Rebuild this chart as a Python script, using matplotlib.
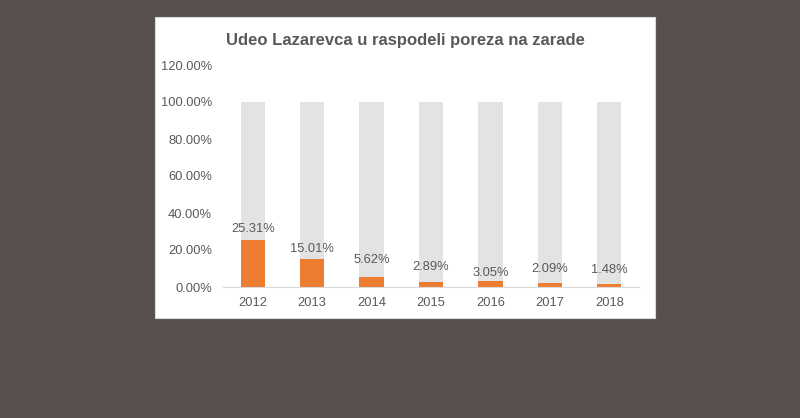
import matplotlib.pyplot as plt
from matplotlib.patches import Rectangle

years = ['2012', '2013', '2014', '2015', '2016', '2017', '2018']
share = [25.31, 15.01, 5.62, 2.89, 3.05, 2.09, 1.48]
total = [100, 100, 100, 100, 100, 100, 100]
# label heights as drawn in the original (Excel placed them unevenly)
label_y = [31.2, 20.5, 14.5, 10.9, 7.6, 9.8, 9.3]

plt.rcParams['font.family'] = ['Liberation Sans', 'DejaVu Sans']
text_col = '#595959'

fig = plt.figure(figsize=(8, 4.18), dpi=100)
fig.patch.set_facecolor('#57504d')
fig.patches.append(Rectangle((155 / 800, 1 - 318 / 418), 500 / 800, 301 / 418,
                             transform=fig.transFigure, facecolor='white',
                             edgecolor='#d9d9d9', linewidth=0.8, zorder=-5))

ax = fig.add_axes([223 / 800, 131 / 418, 416 / 800, 222 / 418])
ax.set_facecolor('none')
x = range(len(years))
ax.bar(x, total, width=0.41, color='#e3e3e3', zorder=1)
ax.bar(x, share, width=0.41, color='#ed7d31', zorder=2)
for i, v in enumerate(share):
    ax.text(i, label_y[i], f'{v:.2f}%', ha='center', va='center',
            fontsize=9.3, color=text_col, zorder=3)

ax.set_xlim(-0.5, len(years) - 0.5)
ax.set_ylim(0, 120)
ax.set_yticks(range(0, 121, 20))
ax.set_yticklabels([f'{t:.2f}%' for t in range(0, 121, 20)])
ax.set_xticks(list(x))
ax.set_xticklabels(years)
ax.tick_params(axis='both', length=0, labelsize=9.3, colors=text_col)
ax.tick_params(axis='y', pad=8)
ax.tick_params(axis='x', pad=7)
for s in ['top', 'right', 'left']:
    ax.spines[s].set_visible(False)
ax.spines['bottom'].set_color('#d9d9d9')

fig.text(405 / 800, 1 - 40 / 418, 'Udeo Lazarevca u raspodeli poreza na zarade',
         ha='center', va='center', fontsize=12, fontweight='bold', color=text_col)

fig.savefig('out.png', dpi=100, facecolor=fig.get_facecolor())
